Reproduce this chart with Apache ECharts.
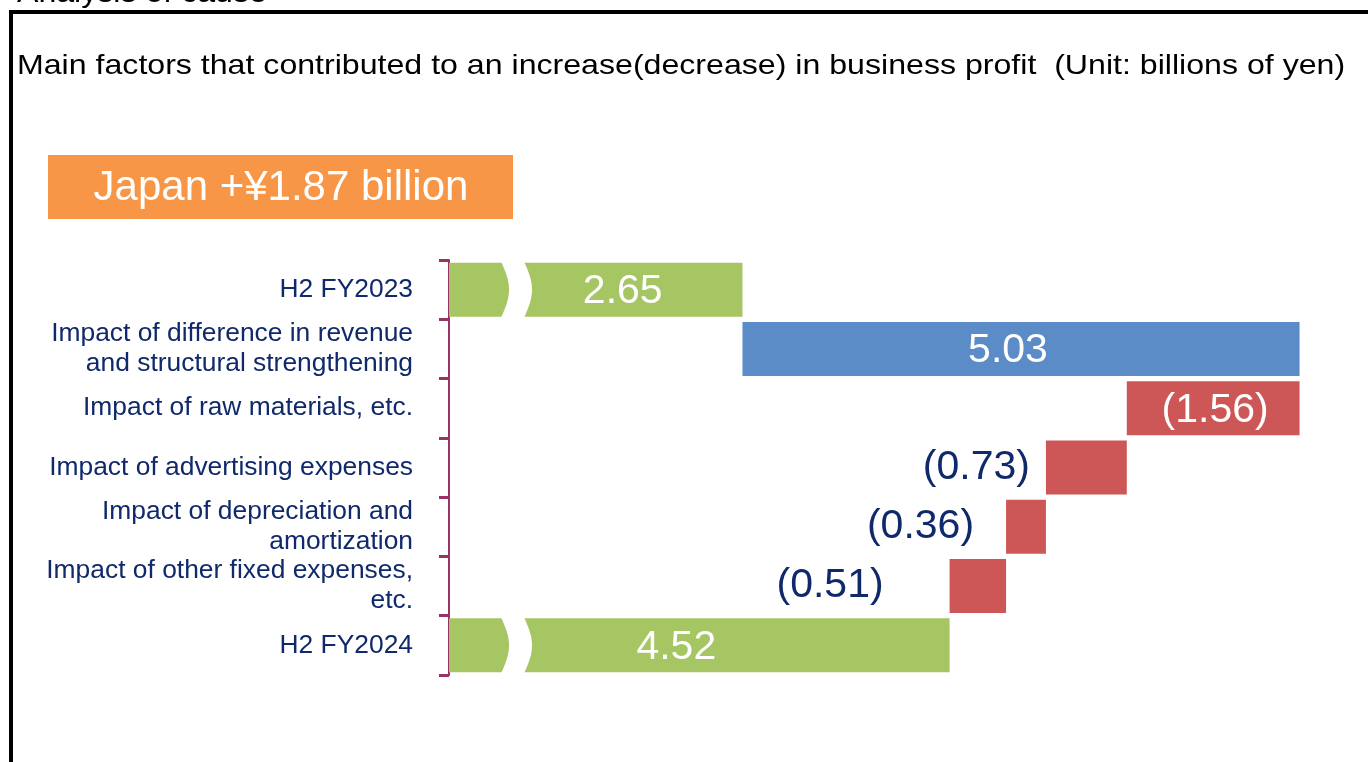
<!DOCTYPE html>
<html>
<head>
<meta charset="utf-8">
<title>Analysis of cause</title>
<script src="https://cdn.jsdelivr.net/npm/echarts@6/dist/echarts.min.js"></script>
<style>
    html, body { margin: 0; padding: 0; background: #fff; }
    #chart { width: 1368px; height: 762px; }
</style>
</head>
<body>
<div id="chart"></div>
<script>
// rows of the waterfall, top to bottom
const categories = [
    'H2 FY2023',
    'Impact of difference in revenue\nand structural strengthening',
    'Impact of raw materials, etc.',
    'Impact of advertising expenses',
    'Impact of depreciation and\namortization',
    'Impact of other fixed expenses,\netc.',
    'H2 FY2024'
];
const changes = [2.65, 5.03, -1.56, -0.73, -0.36, -0.51, 4.52];
const kinds = ['total', 'up', 'down', 'down', 'down', 'down', 'total'];
const valueLabels = ['2.65', '5.03', '(1.56)', '(0.73)', '(0.36)', '(0.51)', '4.52'];

const FONT = '"Liberation Sans", Arial, sans-serif';
const NAVY = '#10296b';
const colors = { total: '#a5c663', up: '#5b8cc8', down: '#cd5756' };

// where each label sits (style only)
const labelStyle = [
    { position: 'inside', offset: [27, 2] },
    { position: 'inside', offset: [-13, 2] },
    { position: 'inside', offset: [2, 2] },
    { position: 'left', distance: 16 },
    { position: 'left', distance: 32 },
    { position: 'left', distance: 66 },
    { position: 'inside', offset: [-23, 2] }
];

// running sum -> invisible base + visible length
const bases = [];
const lengths = [];
let running = 0;
changes.forEach((v, i) => {
    if (kinds[i] === 'total') {
        bases.push(0);
        lengths.push(v);
        running = v;
    } else if (v >= 0) {
        bases.push(running);
        lengths.push(v);
        running += v;
    } else {
        running += v;
        bases.push(running);
        lengths.push(-v);
    }
});

const breakAt = 0.47;
const breakRows = kinds.map((k, i) => k === 'total' ? i : -1).filter(i => i >= 0);

const chart = echarts.init(document.getElementById('chart'));
chart.setOption({
    animation: false,
    textStyle: { fontFamily: FONT },
    grid: { left: 449, top: 260, width: 886, height: 415, containLabel: false },
    xAxis: {
        type: 'value',
        min: 0,
        max: 8,
        show: false
    },
    yAxis: {
        type: 'category',
        inverse: true,
        data: categories,
        axisLine: { lineStyle: { color: '#993366', width: 2 } },
        axisTick: { show: true, length: 10, lineStyle: { color: '#993366', width: 3 } },
        axisLabel: {
            color: NAVY,
            fontSize: 26.4,
            lineHeight: 30,
            margin: 36,
            fontFamily: FONT
        }
    },
    graphic: [
        {
            type: 'text', x: 17, y: 9, silent: true, scaleX: 1.07,
            style: { text: 'Analysis of cause', font: '30px ' + FONT, fill: '#000', verticalAlign: 'bottom' }
        },
        {
            type: 'rect', silent: true,
            shape: { x: 0, y: 10, width: 1368, height: 752 },
            style: { fill: '#fff' }
        },
        {
            type: 'line', silent: true,
            shape: { x1: 9, y1: 12, x2: 1368, y2: 12 },
            style: { stroke: '#000', lineWidth: 4 }
        },
        {
            type: 'line', silent: true,
            shape: { x1: 11, y1: 10, x2: 11, y2: 762 },
            style: { stroke: '#000', lineWidth: 4 }
        },
        {
            type: 'text', x: 17, y: 66, silent: true, scaleX: 1.147,
            style: {
                text: 'Main factors that contributed to an increase(decrease) in business profit  (Unit: billions of yen)',
                font: '28px ' + FONT, fill: '#000', verticalAlign: 'middle'
            }
        },
        {
            type: 'rect', silent: true,
            shape: { x: 48, y: 155, width: 465, height: 64 },
            style: { fill: '#f79646' }
        },
        {
            type: 'text', x: 281, y: 188, silent: true,
            style: {
                text: 'Japan +¥1.87 billion', font: '42px ' + FONT, fill: '#fff',
                align: 'center', verticalAlign: 'middle'
            }
        }
    ],
    series: [
        {
            name: 'base',
            type: 'bar',
            stack: 'wf',
            barWidth: 54,
            silent: true,
            itemStyle: { color: 'transparent' },
            data: bases
        },
        {
            name: 'change',
            type: 'bar',
            stack: 'wf',
            barWidth: 54,
            data: lengths.map((v, i) => ({
                value: v,
                itemStyle: { color: colors[kinds[i] === 'total' ? 'total' : (changes[i] >= 0 ? 'up' : 'down')] },
                label: Object.assign({
                    show: true,
                    formatter: valueLabels[i],
                    fontSize: 41,
                    fontFamily: FONT,
                    color: labelStyle[i].position === 'inside' ? '#fff' : NAVY
                }, labelStyle[i])
            }))
        },
        {
            name: 'axis break',
            type: 'custom',
            silent: true,
            z: 5,
            encode: { x: 0, y: 1 },
            data: breakRows.map(i => [breakAt, i]),
            renderItem(params, api) {
                const p = api.coord([api.value(0), api.value(1)]);
                const h = 56;
                const gap = 23;
                const bulge = 8;
                const n = 12;
                const pts = [];
                for (let k = 0; k <= n; k++) {
                    const t = k / n;
                    pts.push([p[0] + bulge * Math.sin(Math.PI * t), p[1] - h / 2 + h * t]);
                }
                for (let k = n; k >= 0; k--) {
                    const t = k / n;
                    pts.push([p[0] + gap + bulge * Math.sin(Math.PI * t), p[1] - h / 2 + h * t]);
                }
                return {
                    type: 'polygon',
                    shape: { points: pts },
                    style: { fill: '#fff' }
                };
            }
        }
    ]
});
</script>
</body>
</html>
